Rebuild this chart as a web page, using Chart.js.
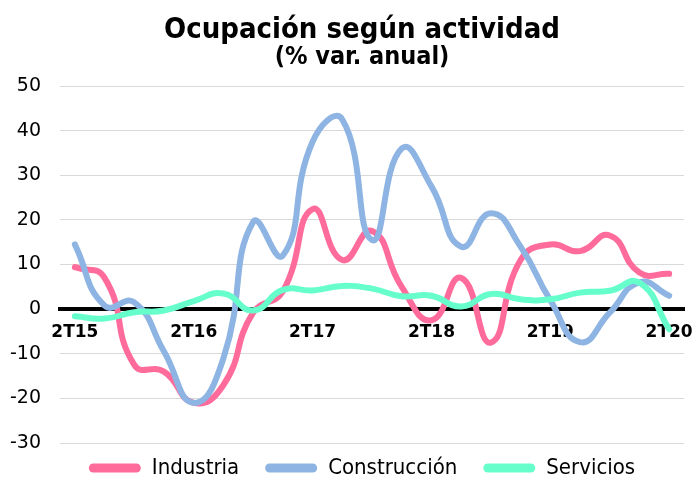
<!DOCTYPE html>
<html>
<head>
<meta charset="utf-8">
<script src="https://cdn.jsdelivr.net/npm/chart.js@4/dist/chart.umd.min.js"></script>
<style>
  html, body { margin: 0; padding: 0; background: #fff; }
  #wrap { width: 692px; height: 478px; }
</style>
</head>
<body>
<div id="wrap"><canvas id="chart"></canvas></div>
<script>
const quarters = ['2T15', '3T15', '4T15', '1T16', '2T16', '3T16', '4T16', '1T17', '2T17', '3T17',
    '4T17', '1T18', '2T18', '3T18', '4T18', '1T19', '2T19', '3T19', '4T19', '1T20', '2T20'];
const industria = [9.4, 7, -12.5, -14, -21, -17, -0.8, 4, 22.4, 11, 17.5, 5, -2.5, 7, -7.5, 11, 14.5, 13, 16.5, 8.2, 7.9];
const construccion = [14.5, 0.8, 1.5, -9.5, -21, -11, 19.5, 12, 37.5, 42.5, 15.5, 36, 27.5, 14, 21.5, 14, 2, -7.4, -0.8, 6, 3];
const servicios = [-1.6, -2.1, -0.7, -0.3, 1.8, 3.5, -0.3, 4.3, 4.2, 5.2, 4.6, 2.9, 3, 0.6, 3.4, 2.2, 2.2, 3.7, 4.1, 5.9, -4.5];
const yTicks = { min: -30, max: 50, step: 10 };

const condensed = '"DejaVu Sans Condensed", "DejaVu Sans", sans-serif';

// title/legend sit centred over the plot, not the whole canvas; legend a bit higher
const boxNudge = {
    id: 'boxNudge',
    afterLayout(chart) {
        chart.boxes.forEach(b => {
            if (b.axis) return;
            b.left += 20;
            b.right += 20;
            if (b === chart.legend) {
                b.top -= 12;
                b.bottom -= 12;
            }
        });
    }
};

function serie(label, data, color, order) {
    return {
        label: label,
        data: data,
        borderColor: color,
        backgroundColor: color,
        borderWidth: 6,
        borderCapStyle: 'round',
        borderJoinStyle: 'round',
        pointRadius: 0,
        tension: 0.5,
        order: order
    };
}

const ctx = document.getElementById('chart').getContext('2d');
new Chart(ctx, {
    type: 'line',
    data: {
        labels: quarters,
        datasets: [
            serie('Industria', industria, '#FF6B9B', 3),
            serie('Construcción', construccion, '#8DB4E2', 2),
            serie('Servicios', servicios, '#66FFCC', 1)
        ]
    },
    plugins: [boxNudge],
    options: {
        responsive: true,
        maintainAspectRatio: false,
        animation: false,
        layout: { padding: { left: 0, right: 8, top: 0, bottom: -23 } },
        plugins: {
            title: {
                display: true,
                text: 'Ocupación según actividad',
                color: '#000',
                font: { family: condensed, size: 29, weight: 'bold', lineHeight: 1 },
                padding: { top: 16, bottom: 0 }
            },
            subtitle: {
                display: true,
                text: '(% var. anual)',
                color: '#000',
                font: { family: condensed, size: 25, weight: 'bold', lineHeight: 1 },
                padding: { top: 0, bottom: 16 }
            },
            legend: {
                position: 'bottom',
                labels: {
                    color: '#000',
                    font: { family: condensed, size: 22 },
                    boxWidth: 52,
                    boxHeight: 9,
                    useBorderRadius: true,
                    borderRadius: 4.5,
                    padding: 26,
                    sort: (a, b) => a.datasetIndex - b.datasetIndex,
                    generateLabels(chart) {
                        const items = Chart.defaults.plugins.legend.labels.generateLabels(chart);
                        items.forEach(it => { it.lineWidth = 0; it.fillStyle = it.strokeStyle; });
                        return items;
                    }
                }
            },
            tooltip: { enabled: false }
        },
        scales: {
            x: {
                type: 'category',
                position: { y: 0 },
                offset: true,
                afterFit(scale) {
                    scale.paddingLeft = 0;
                    scale.paddingRight = 0;
                },
                grid: { drawOnChartArea: false, drawTicks: false },
                border: { display: true, color: '#000', width: 4 },
                ticks: {
                    autoSkip: false,
                    maxRotation: 0,
                    padding: 13,
                    color: '#000',
                    font: { family: '"DejaVu Sans", sans-serif', size: 17, weight: 'bold' },
                    callback: function (value, i) {
                        return i % 4 === 0 ? this.getLabelForValue(value) : '';
                    }
                }
            },
            y: {
                min: yTicks.min,
                max: yTicks.max,
                afterFit(scale) { scale.width = 60; },
                grid: { color: '#D9D9D9', lineWidth: 1, drawTicks: false },
                border: { display: false },
                ticks: {
                    stepSize: yTicks.step,
                    padding: 19,
                    color: '#000',
                    font: { family: '"DejaVu Sans", sans-serif', size: 19 }
                }
            }
        }
    }
});
</script>
</body>
</html>
